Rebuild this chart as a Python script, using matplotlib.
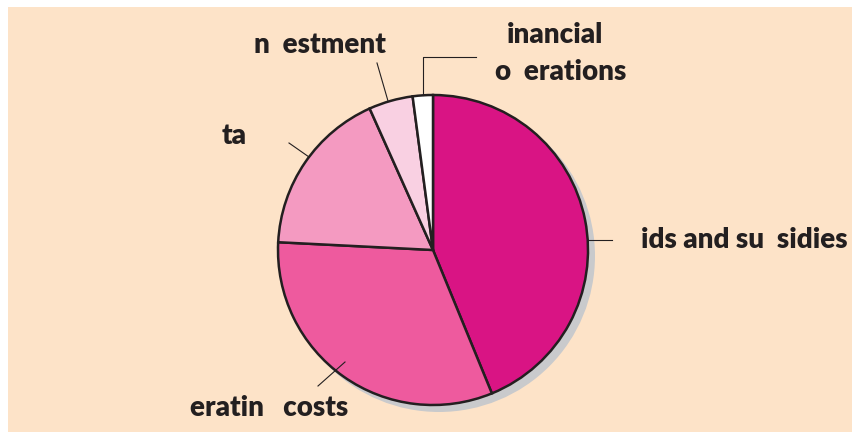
import matplotlib
matplotlib.use("Agg")
import matplotlib.pyplot as plt
from matplotlib.patches import Rectangle, Circle

# --- data (shares in %)
labels = ["ids and su  sidies", "eratin   costs", "ta", "n  estment", "inancial\no  erations"]
shares = [43.8, 32.0, 17.5, 4.6, 2.1]
colours = ["#D91484", "#EE5A9E", "#F49AC1", "#F9D0E2", "#FFFFFF"]

W, H = 853, 436
fig = plt.figure(figsize=(W / 100, H / 100), dpi=100)
ax = fig.add_axes([0, 0, 1, 1])

def Y(py):
    # pixel row (top down) -> axes y (bottom up)
    return H - py

# peach panel
ax.add_patch(Rectangle((8, Y(432)), W - 8, 425, facecolor="#FDE3C8", edgecolor="none", zorder=0))

cx, cy, r = 433, Y(250), 155
# drop shadow
ax.add_patch(Circle((cx + 6, cy - 6), r + 1, facecolor="#C9CACC", edgecolor="none", zorder=1))

wedges, _ = ax.pie(shares, colors=colours, startangle=90, counterclock=False,
                   center=(cx, cy), radius=r, frame=True,
                   wedgeprops=dict(edgecolor="#231F20", linewidth=1.8))
for w in wedges:
    w.set_zorder(2)
ax.set_xlim(0, W)
ax.set_ylim(0, H)
ax.set_aspect("equal")
ax.axis("off")

txt = dict(color="#231F20", fontsize=20, fontweight="heavy", family="Lato", zorder=5)
lk = dict(color="#231F20", linewidth=0.8, zorder=3)

# aids and subsidies
ax.plot([588, 612], [Y(240), Y(240)], **lk)
ax.text(641, Y(240), labels[0], ha="left", va="center", **txt)
# operating costs
ax.plot([345, 318], [Y(362), Y(386)], **lk)
ax.text(190, Y(408), labels[1], ha="left", va="center", **txt)
# data
ax.plot([309, 289], [Y(157), Y(143)], **lk)
ax.text(222, Y(136), labels[2], ha="left", va="center", **txt)
# investment
ax.plot([388, 377], [Y(101), Y(63)], **lk)
ax.text(254, Y(45), labels[3], ha="left", va="center", **txt)
# financial operations
ax.plot([423, 423, 476], [Y(95), Y(57), Y(57)], **lk)
fin_top, fin_bot = labels[4].split("\n")
ax.text(555, Y(35), fin_top, ha="center", va="center", **txt)
ax.text(561, Y(72), fin_bot, ha="center", va="center", **txt)

fig.savefig("out.png", dpi=100, facecolor="white")
